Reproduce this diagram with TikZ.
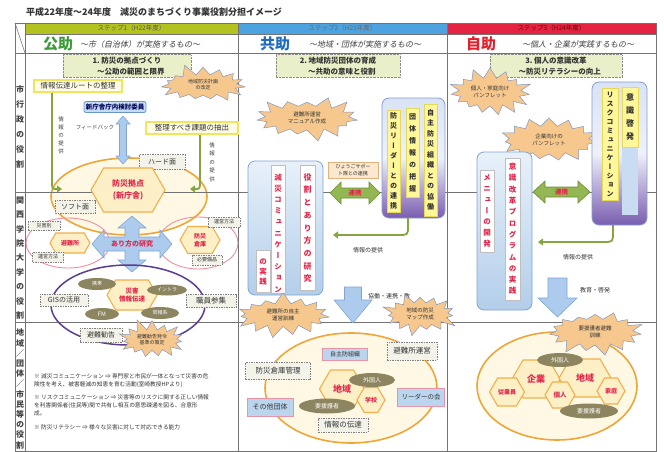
\documentclass[tikz,border=0pt]{standalone}
\usepackage{fontspec}
\setmainfont{Noto Sans CJK JP}
\newfontfamily\vjp[RawFeature=+vert]{Noto Sans CJK JP}
\newfontfamily\sljp[FakeSlant=0.2]{Noto Sans CJK JP}
\usetikzlibrary{shapes.geometric,shapes.symbols,arrows.meta}
\makeatletter
\newcommand\vstk[1]{\gdef\vt@sep{}\@tfor\vt@c:=#1\do{\vt@sep\vt@c\gdef\vt@sep{\\}}}
\makeatother
\newcommand\fsz[2]{\fontsize{#1}{#2}\selectfont}
\definecolor{stepA}{HTML}{B4C21F}
\definecolor{stepB}{HTML}{4DA3E0}
\definecolor{stepC}{HTML}{E3233F}
\definecolor{kgreen}{HTML}{3E9B3A}
\definecolor{kblue}{HTML}{1F6CC0}
\definecolor{kred}{HTML}{E3202C}
\definecolor{stepfill}{HTML}{E9EFC8}
\definecolor{yboxdraw}{HTML}{F2E55C}
\definecolor{yboxfill}{HTML}{FFFCE6}
\definecolor{dboxfill}{HTML}{F3F3EA}
\definecolor{pboxdraw}{HTML}{E794A6}
\definecolor{pboxfill}{HTML}{BCD5EE}
\definecolor{hexdraw}{HTML}{F1B04C}
\definecolor{hexfill}{HTML}{FDEFC6}
\definecolor{redtxt}{HTML}{E5254B}
\definecolor{olivefill}{HTML}{8C8560}
\definecolor{burstfill}{HTML}{F7C88D}
\definecolor{burstdraw}{HTML}{8497BD}
\definecolor{ovaldraw}{HTML}{F0A537}
\definecolor{ovalfill}{HTML}{FFF8E5}
\definecolor{pinkdraw}{HTML}{EF8FA0}
\definecolor{purpdraw}{HTML}{5C3C8E}
\definecolor{garrow}{HTML}{86A442}
\definecolor{garrowfill}{HTML}{93B752}
\definecolor{garrowdraw}{HTML}{6E8E30}
\definecolor{barrowfill}{HTML}{ADCBEC}
\definecolor{barrowdraw}{HTML}{7FA6D6}
\definecolor{bbdraw}{HTML}{7EA5D5}
\definecolor{bbtop}{HTML}{E8F1FA}
\definecolor{bbbot}{HTML}{B3CEEA}
\definecolor{pbdraw}{HTML}{8A9ED0}
\definecolor{pptop}{HTML}{D9E3F5}
\definecolor{ppmid}{HTML}{EEF1FA}
\definecolor{ppbot}{HTML}{7A5DB0}
\definecolor{ystripfill}{HTML}{FFF79A}
\definecolor{ystripdraw}{HTML}{E8D85A}
\definecolor{hyofill}{HTML}{FCE8CF}
\definecolor{hyodraw}{HTML}{E3B27A}
\definecolor{iinfill}{HTML}{C6DCF2}
\definecolor{iindraw}{HTML}{6A96CC}
\definecolor{lblue}{HTML}{C9DCF2}
\tikzset{
 grid/.style={draw=black!55, line width=0.6pt},
 tx/.style={inner sep=0pt, align=center},
 vt/.style={inner sep=0pt, align=center, text width=12pt},
 stepbox/.style={draw=black!45, densely dotted, fill=stepfill, inner sep=1pt, align=center, font=\bfseries\fsz{7.5}{11}, text=black!80},
 dbox/.style={draw=black!50, dash pattern=on 1.5pt off 1pt, fill=dboxfill, inner sep=1pt, align=center, text=black!80},
 ybox/.style={draw=yboxdraw, line width=1.6pt, fill=yboxfill, inner sep=1pt, text=black!80},
 pbox/.style={draw=pboxdraw, line width=1pt, fill=pboxfill, inner sep=1pt, text=black!80},
 hexa/.style={signal, signal to=east and west, signal pointer angle=120, draw=hexdraw, line width=1.1pt, fill=hexfill, text=redtxt, inner sep=0pt, align=center},
 olv/.style={ellipse, fill=olivefill, text=white, inner sep=0pt},
 burst/.style={starburst, starburst points=15, starburst point height=12pt, random starburst=#1, fill=burstfill, draw=burstdraw, line width=0.5pt, inner sep=2pt, align=center, text=black!80},
 bigoval/.style={ellipse, draw=ovaldraw, line width=1.6pt, fill=ovalfill},
 bluebox/.style={rounded corners=7pt, draw=bbdraw, line width=0.8pt, top color=bbtop, bottom color=bbbot},
 purpbox/.style={rounded corners=7pt, draw=pbdraw, line width=0.8pt, top color=pptop, bottom color=ppbot, middle color=ppmid},
 wstrip/.style={draw=black!25, fill=white, line width=0.4pt},
 ystrip/.style={draw=ystripdraw, fill=ystripfill, line width=0.6pt},
 gline/.style={draw=garrow, line width=1.8pt, -{Triangle[length=5pt,width=7pt]}},
 barrow/.style={fill=barrowfill, draw=barrowdraw, line width=0.6pt},
 garr/.style={fill=garrowfill, draw=garrowdraw, line width=0.6pt},
}
\begin{document}
\begin{tikzpicture}[x=1pt,y=-1pt]
\useasboundingbox (0,0) rectangle (664,452);
\fill[white] (0,0) rectangle (664,452);
% title
\node[anchor=west, font=\bfseries\fsz{9}{10}, text=black!80, inner sep=0pt] (title) at (26,12) {平成22年度～24年度　減災のまちづくり事業役割分担イメージ};
% step bars
\fill[stepA] (25,23) rectangle (238,34);
\fill[stepB] (238,23) rectangle (447,34);
\fill[stepC] (447,23) rectangle (656,34);
\node[tx, font=\fsz{6.5}{7}, text=black!65] (s1) at (131.5,28.5) {ステップ1（H22年度）};
\node[tx, font=\fsz{6.5}{7}, text=black!60] (s2) at (342.5,28.5) {ステップ2（H23年度）};
\node[tx, font=\fsz{6.5}{7}, text=red!45!black] (s3) at (551.5,28.5) {ステップ3（H24年度）};
% big ovals (fill before grid)
\node[bigoval, minimum width=156pt, minimum height=77pt] (ovA) at (129,196.5) {};
\node[bigoval, minimum width=172pt, minimum height=110pt] (ovB) at (351,388) {};
\node[bigoval, minimum width=160pt, minimum height=108pt] (ovC) at (557,386) {};
% grid
\draw[grid] (15,23) rectangle (656,451);
\draw[grid] (25,23) -- (25,451);
\draw[grid] (238,23) -- (238,451);
\draw[grid] (447,23) -- (447,451);
\draw[grid] (25,34) -- (656,34);
\draw[grid] (15,53) -- (656,53);
\draw[grid] (15,192) -- (656,192);
\draw[grid] (15,322) -- (656,322);
\draw[grid] (15,23) -- (25,53);
% header row 2
\node[tx, font=\bfseries\fsz{15}{16}, text=kgreen] (kA) at (58,44) {公助};
\node[tx, font=\sljp\fsz{8}{9}, text=black!75] (kAs) at (140,44.5) {～市（自治体）が実施するもの～};
\node[tx, font=\bfseries\fsz{15}{16}, text=kblue] (kB) at (275,44) {共助};
\node[tx, font=\sljp\fsz{8}{9}, text=black!75] (kBs) at (365,44.5) {～地域・団体が実施するもの～};
\node[tx, font=\bfseries\fsz{15}{16}, text=kred] (kC) at (481,44) {自助};
\node[tx, font=\sljp\fsz{8}{9}, text=black!75] (kCs) at (578,44.5) {～個人・企業が実践するもの～};
% row labels
\node[vt, font=\vjp\bfseries\fsz{8}{15}, text=black!75] (r1) at (20,127) {\vstk{市行政の役割}};
\node[vt, font=\vjp\bfseries\fsz{8}{14.4}, text=black!75] (r2) at (20,258) {\vstk{関西学院大学の役割}};
\node[vt, font=\vjp\bfseries\fsz{8}{10.2}, text=black!75] (r3) at (20,389) {\vstk{地域／団体／市民等の役割}};
% step boxes
\node[stepbox, minimum width=128pt, minimum height=23pt] (st1) at (127,66) {1.\ 防災の拠点づくり\\　～公助の範囲と限界};
\node[stepbox, minimum width=124pt, minimum height=23pt] (st2) at (338,66) {2.\ 地域防災団体の育成\\　～共助の意味と役割};
\node[stepbox, minimum width=132pt, minimum height=23pt] (st3) at (556,66) {3.\ 個人の意識改革\\　～防災リテラシーの向上};

% ================= column 1 =================
\node[ybox, minimum width=88pt, minimum height=12pt, font=\fsz{7.5}{8}] (yb1) at (78,86) {情報伝達ルートの整理};
\node[burst=5, minimum width=92pt, minimum height=40pt, font=\fsz{5}{6}] (bs1) at (203,85) {地域防災計画\\の改定};
\node[draw=iindraw, fill=iinfill, rounded corners=2pt, line width=0.8pt, minimum width=62pt, minimum height=11pt, inner sep=1pt, font=\bfseries\fsz{6.5}{7}, text=blue!35!black] (iin) at (115,107) {新庁舎庁内検討委員};
\node[tx, font=\fsz{5.5}{6}, text=black!75] (fb) at (95,127) {フィードバック};
\path[barrow] (123,116) -- (130,124) -- (126.5,124) -- (126.5,156) -- (130,156) -- (123,164) -- (116,156) -- (119.5,156) -- (119.5,124) -- (116,124) -- cycle;
\node[ybox, minimum width=92pt, minimum height=12pt, font=\fsz{7.5}{8}] (yb2) at (192,128) {整理すべき課題の抽出};
\coordinate (g1a) at (52,93);
\coordinate (g1b) at (62,189);
\coordinate (g2a) at (200,135);
\coordinate (g2b) at (190,189);
\draw[gline] (g1a) -- (52,181) .. controls (52,189) .. (g1b);
\draw[gline] (g2a) -- (200,181) .. controls (200,189) .. (g2b);
\node[vt, font=\vjp\fsz{5.5}{8}, text=black!75] (lb1) at (61,135) {\vstk{情報の提供}};
\node[vt, font=\vjp\fsz{5.5}{8.5}, text=black!75] (lb2) at (212,162) {\vstk{情報の提供}};
\node[dbox, minimum width=46pt, minimum height=15pt, font=\fsz{7}{8}] (hard) at (162,162) {ハード面};
\node[hexa, minimum width=74pt, minimum height=44pt, font=\bfseries\fsz{8}{12}] (hq) at (128,190) {防災拠点\\(新庁舎)};
\node[dbox, minimum width=40pt, minimum height=13pt, font=\fsz{7}{8}] (soft) at (75,207) {ソフト面};
\node[ellipse, draw=pinkdraw, line width=0.9pt, minimum width=84pt, minimum height=50pt] (pk1) at (68,243) {};
\node[ellipse, draw=pinkdraw, line width=0.9pt, minimum width=80pt, minimum height=52pt] (pk2) at (198,243) {};
\node[hexa, minimum width=40pt, minimum height=20pt, font=\bfseries\fsz{6}{7}] (hin) at (70,243) {避難所};
\node[hexa, minimum width=40pt, minimum height=27pt, font=\bfseries\fsz{6}{8}] (hso) at (200,240) {防災\\倉庫};
\node[dbox, minimum width=32pt, minimum height=9pt, font=\fsz{5}{6}] (d1) at (44,226) {災害別};
\node[dbox, minimum width=31pt, minimum height=10pt, font=\fsz{5}{6}] (d2) at (48,257) {運営方法};
\node[dbox, minimum width=32pt, minimum height=10pt, font=\fsz{5}{6}] (d3) at (224,222) {運営方法};
\node[dbox, minimum width=30pt, minimum height=10pt, font=\fsz{5}{6}] (d4) at (207,260) {必要備品};
\path[barrow] (132,216) -- (146,228) -- (139,228) -- (139,237) -- (160,237) -- (160,230) -- (172,244) -- (160,258) -- (160,251) -- (139,251) -- (139,260) -- (146,260) -- (132,272) -- (118,260) -- (125,260) -- (125,251) -- (104,251) -- (104,258) -- (92,244) -- (104,230) -- (104,237) -- (125,237) -- (125,228) -- (118,228) -- cycle;
\node[tx, font=\bfseries\fsz{7}{8}, text=redtxt] (ar) at (132,244) {あり方の研究};
\node[ellipse, draw=purpdraw, line width=1.5pt, minimum width=154pt, minimum height=80pt] (pu) at (128,305) {};
\node[hexa, minimum width=50pt, minimum height=30pt, font=\bfseries\fsz{6.5}{8}] (hjo) at (132,295) {災害\\情報伝達};
\node[olv, minimum width=38pt, minimum height=12pt, font=\fsz{5}{6}] (o1) at (97,284) {携帯};
\node[olv, minimum width=40pt, minimum height=11pt, font=\fsz{5}{6}] (o2) at (167,290) {イントラ};
\node[olv, minimum width=34pt, minimum height=12pt, font=\fsz{6}{7}] (o3) at (102,314) {FM};
\node[olv, minimum width=38pt, minimum height=12pt, font=\fsz{5}{6}] (o4) at (160,313) {同報系};
\node[dbox, minimum width=48pt, minimum height=12pt, font=\fsz{7}{8}] (gis) at (64,300) {GISの活用};
\node[dbox, minimum width=50pt, minimum height=13pt, font=\fsz{7.5}{8}] (sya) at (211,301) {職員参集};
\node[dbox, minimum width=42pt, minimum height=14pt, font=\fsz{7}{8}] (kan) at (101,335) {避難勧告};
\node[burst=11, minimum width=74pt, minimum height=44pt, font=\fsz{5}{6}] (bs2) at (152,340) {避難勧告発令\\基準の策定};
\node[anchor=north west, inner sep=0pt, align=left, font=\fsz{5.7}{8}, text=black!80] (notes) at (34,373) {※ 減災コミュニケーション ⇒ 専門家と市民が一体となって災害の危\\険性を考え、被害軽減の知恵を育む活動(室崎教授HPより)\\[5pt]※ リスクコミュニケーション ⇒ 災害等のリスクに関する正しい情報\\を利害関係者(住民等)間で共有し相互の意思疎通を図る、合意形\\成。\\[6pt]※ 防災リテラシー ⇒ 様々な災害に対して対応できる能力};

% ================= column 2 =================
\node[burst=3, minimum width=108pt, minimum height=48pt, font=\fsz{5.5}{7}] (bs3) at (307,118) {避難所運営\\マニュアル作成};
\node[bluebox, minimum width=75pt, minimum height=134pt] (bb2) at (285.5,228) {};
\node[wstrip, minimum width=14pt, minimum height=128pt] (wA) at (278,229) {};
\node[wstrip, minimum width=14pt, minimum height=42pt] (wB) at (263,271) {};
\node[wstrip, minimum width=15pt, minimum height=125pt] (wC) at (307.5,227.5) {};
\node[vt, font=\vjp\bfseries\fsz{7.5}{11.2}, text=redtxt] (tA) at (278,233) {\vstk{減災コミュニケーション}};
\node[vt, font=\vjp\bfseries\fsz{7.5}{10}, text=redtxt] (tB) at (263,272) {\vstk{の実践}};
\node[vt, font=\vjp\bfseries\fsz{8}{12.7}, text=redtxt] (tC) at (307.5,228) {\vstk{役割とあり方の研究}};
\node[draw=hyodraw, fill=hyofill, line width=0.8pt, minimum width=50pt, minimum height=16pt, inner sep=1pt, font=\fsz{5}{6.5}, align=center, text=black!80] (hyo) at (353,170) {ひょうごサポー\\ト隊との連携};
\path[garr] (330,193) -- (341,182) -- (341,188) -- (369,188) -- (369,182) -- (380,193) -- (369,204) -- (369,198) -- (341,198) -- (341,204) -- cycle;
\node[tx, font=\bfseries\fsz{6.5}{7}, text=redtxt] (rk2) at (355,193) {連携};
\node[purpbox, minimum width=63pt, minimum height=120pt] (pb2) at (413.5,158) {};
\node[ystrip, minimum width=13pt, minimum height=102pt] (yL) at (393.5,161) {};
\node[ystrip, minimum width=13pt, minimum height=89pt] (yM) at (412.5,152.5) {};
\node[ystrip, minimum width=13pt, minimum height=112pt] (yR) at (430.5,160) {};
\node[vt, font=\vjp\bfseries\fsz{7}{10}, text=black!80] (tL) at (393.5,161) {\vstk{防災リーダーとの連携}};
\node[vt, font=\vjp\bfseries\fsz{7}{12}, text=black!80] (tM) at (412.5,152.5) {\vstk{団体情報の把握}};
\node[vt, font=\vjp\bfseries\fsz{7}{10.5}, text=black!80] (tR) at (430.5,160) {\vstk{自主防災組織との協働}};
\coordinate (i2s) at (408,218);
\coordinate (i2e) at (333,235);
\draw[gline] (i2s) -- (408,226) .. controls (408,235) .. (398,235) -- (i2e);
\node[tx, font=\fsz{6}{7}, text=black!80] (ip2) at (368,250) {情報の提供};
\path[barrow] (344.5,287) -- (361.5,287) -- (361.5,300) -- (372,300) -- (353,323) -- (334,300) -- (344.5,300) -- cycle;
\node[tx, font=\fsz{6}{7}, text=black!80] (kr2) at (389,296) {協働・連携・教};
\node[burst=7, minimum width=100pt, minimum height=46pt, font=\fsz{5.5}{7}] (bs4) at (283,315) {避難所の自主\\運営訓練};
\node[burst=9, minimum width=80pt, minimum height=44pt, font=\fsz{5.5}{7}] (bs5) at (420,314) {地域の防災\\マップ作成};
\node[pbox, minimum width=45pt, minimum height=12pt, font=\fsz{6}{7}] (jsb) at (345,354) {自主防組織};
\node[dbox, minimum width=50pt, minimum height=18pt, font=\fsz{7.5}{8}] (hu) at (412,351) {避難所運営};
\node[dbox, minimum width=65pt, minimum height=17pt, font=\fsz{7.5}{8}] (bsk) at (278,371) {防災倉庫管理};
\node[hexa, minimum width=45pt, minimum height=38pt, font=\bfseries\fsz{9}{10}] (hcB) at (342,389) {地域};
\node[hexa, minimum width=28pt, minimum height=25pt, font=\bfseries\fsz{6}{7}] (hgk) at (371,400) {学校};
\node[olv, minimum width=46pt, minimum height=14pt, font=\fsz{6}{7}] (o5) at (372,380) {外国人};
\node[olv, minimum width=56pt, minimum height=15pt, font=\fsz{6}{7}] (o6) at (327,406) {要援護者};
\node[pbox, minimum width=46pt, minimum height=18pt, font=\fsz{7}{8}] (sot) at (270,407) {その他団体};
\node[pbox, minimum width=47pt, minimum height=18pt, font=\fsz{6.5}{7}] (ldr) at (421,397) {リーダーの会};
\node[dbox, minimum width=50pt, minimum height=14pt, font=\fsz{7.5}{8}] (jd) at (343,425) {情報の伝達};

% ================= column 3 =================
\node[burst=4, minimum width=86pt, minimum height=52pt, font=\fsz{5.5}{7}] (bs6) at (490,92) {個人・家庭向け\\パンフレット};
\node[burst=8, minimum width=104pt, minimum height=52pt, font=\fsz{5.5}{7}] (bs7) at (549,140) {企業向けの\\パンフレット};
\node[purpbox, minimum width=55pt, minimum height=143pt] (pb3) at (619.5,153.5) {};
\node[ystrip, minimum width=16pt, minimum height=112pt] (y3L) at (610,144) {};
\node[fill=lblue, minimum width=16pt, minimum height=68pt, inner sep=0pt] (y3B) at (630,181) {};
\node[ystrip, minimum width=16pt, minimum height=60pt] (y3R) at (630,117) {};
\node[vt, font=\vjp\bfseries\fsz{7}{9}, text=black!80] (t3L) at (610,144) {\vstk{リスクコミュニケーション}};
\node[vt, font=\vjp\bfseries\fsz{8}{13}, text=black!80] (t3R) at (630,117) {\vstk{意識啓発}};
\node[bluebox, minimum width=55pt, minimum height=158pt] (bb3) at (504.5,231) {};
\node[wstrip, minimum width=15pt, minimum height=142pt] (w3A) at (512.5,229) {};
\node[wstrip, minimum width=14pt, minimum height=82pt] (w3B) at (487,211) {};
\node[vt, font=\vjp\bfseries\fsz{7.5}{11.3}, text=redtxt] (t3A) at (512.5,229) {\vstk{意識改革プログラムの実践}};
\node[vt, font=\vjp\bfseries\fsz{7.5}{11}, text=redtxt] (t3B) at (487,211) {\vstk{メニューの開発}};
\path[garr] (533,192) -- (545,181) -- (545,187) -- (578,187) -- (578,181) -- (590,192) -- (578,203) -- (578,197) -- (545,197) -- (545,203) -- cycle;
\node[tx, font=\bfseries\fsz{6.5}{7}, text=redtxt] (rk3) at (561.5,192) {連携};
\coordinate (i3s) at (613,225);
\coordinate (i3e) at (538,242);
\draw[gline] (i3s) -- (613,232) .. controls (613,242) .. (603,242) -- (i3e);
\node[tx, font=\fsz{6}{7}, text=black!80] (ip3) at (578,257) {情報の提供};
\path[barrow] (548,278) -- (567,278) -- (567,298) -- (577,298) -- (557.5,317) -- (538,298) -- (548,298) -- cycle;
\node[tx, font=\fsz{6}{7}, text=black!80] (kk3) at (595,290) {教育・啓発};
\node[hexa, minimum width=48pt, minimum height=38pt, font=\bfseries\fsz{9}{10}] (hkg) at (536,379) {企業};
\node[hexa, minimum width=52pt, minimum height=38pt, font=\bfseries\fsz{9}{10}] (hcC) at (585,378) {地域};
\node[hexa, minimum width=35pt, minimum height=28pt, font=\bfseries\fsz{6}{7}] (hju) at (507,392) {従業員};
\node[hexa, minimum width=30pt, minimum height=26pt, font=\bfseries\fsz{6.5}{7}] (hko) at (560,395) {個人};
\node[hexa, minimum width=28pt, minimum height=26pt, font=\bfseries\fsz{6}{7}] (hkt) at (611,391) {家庭};
\node[olv, minimum width=46pt, minimum height=14pt, font=\fsz{6}{7}] (o7) at (560,360) {外国人};
\node[olv, minimum width=58pt, minimum height=15pt, font=\fsz{6}{7}] (o8) at (589,411) {要援護者};
\node[burst=6, minimum width=100pt, minimum height=50pt, font=\fsz{5.5}{7}] (bs8) at (595,332) {要援護者避難\\訓練};
\end{tikzpicture}
\end{document}
